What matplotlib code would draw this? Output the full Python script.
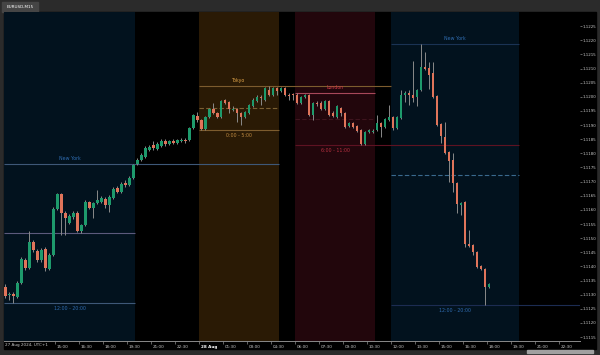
import numpy as np
import pandas as pd
import matplotlib
matplotlib.use("Agg")
import matplotlib.pyplot as plt
import matplotlib.dates as mdates
import matplotlib.transforms as mtransforms
from matplotlib.patches import Rectangle

# 15-minute candles, broker time (UTC+1)
times = pd.date_range("2024-08-27 11:45", periods=122, freq="15min")

opens = [1.11327, 1.11299, 1.11302, 1.11292, 1.11341, 1.11423, 1.11394, 1.11486, 1.11454, 1.11423,
         1.11462, 1.11391, 1.11440, 1.11603, 1.11656, 1.11589, 1.11553, 1.11575, 1.11589, 1.11525,
         1.11546, 1.11628, 1.11607, 1.11624, 1.11628, 1.11638, 1.11617, 1.11642, 1.11677, 1.11663,
         1.11695, 1.11688, 1.11713, 1.11762, 1.11776, 1.11787, 1.11812, 1.11829, 1.11815, 1.11826,
         1.11843, 1.11833, 1.11843, 1.11836, 1.11843, 1.11847, 1.11847, 1.11889, 1.11932, 1.11918,
         1.11886, 1.11928, 1.11957, 1.11942, 1.11928, 1.11988, 1.11981, 1.11953, 1.11957, 1.11942,
         1.11928, 1.11942, 1.11967, 1.11985, 1.11999, 1.11988, 1.12024, 1.12006, 1.12031, 1.12020,
         1.12031, 1.12006, 1.12010, 1.12006, 1.11978, 1.11999, 1.12006, 1.11935, 1.11978, 1.11978,
         1.11957, 1.11985, 1.11942, 1.11928, 1.11960, 1.11942, 1.11896, 1.11907, 1.11896, 1.11882,
         1.11833, 1.11875, 1.11875, 1.11882, 1.11907, 1.11893, 1.11918, 1.11928, 1.11889, 1.11925,
         1.12006, 1.12013, 1.12006, 1.11999, 1.12024, 1.12105, 1.12102, 1.12084, 1.12003, 1.11904,
         1.11858, 1.11805, 1.11776, 1.11695, 1.11617, 1.11628, 1.11479, 1.11476, 1.11451, 1.11401,
         1.11391, 1.11327]
highs = [1.11338, 1.11309, 1.11309, 1.11348, 1.11433, 1.11430, 1.11525, 1.11493, 1.11462, 1.11465,
         1.11469, 1.11447, 1.11610, 1.11660, 1.11660, 1.11596, 1.11585, 1.11596, 1.11596, 1.11550,
         1.11635, 1.11631, 1.11628, 1.11670, 1.11649, 1.11645, 1.11652, 1.11681, 1.11684, 1.11698,
         1.11706, 1.11720, 1.11762, 1.11783, 1.11801, 1.11826, 1.11829, 1.11843, 1.11840, 1.11851,
         1.11851, 1.11847, 1.11851, 1.11851, 1.11854, 1.11854, 1.11893, 1.11939, 1.11946, 1.11921,
         1.11932, 1.11960, 1.11978, 1.11946, 1.11988, 1.11992, 1.11985, 1.11967, 1.11960, 1.11946,
         1.11950, 1.11974, 1.11995, 1.12006, 1.12006, 1.12034, 1.12038, 1.12034, 1.12034, 1.12034,
         1.12034, 1.12013, 1.12013, 1.12013, 1.12003, 1.12010, 1.12010, 1.11981, 1.11985, 1.11985,
         1.11988, 1.11988, 1.11950, 1.11971, 1.11964, 1.11946, 1.11911, 1.11911, 1.11900, 1.11886,
         1.11879, 1.11886, 1.11886, 1.11935, 1.11911, 1.11925, 1.11971, 1.11932, 1.11932, 1.12024,
         1.12020, 1.12024, 1.12126, 1.12027, 1.12186, 1.12158, 1.12123, 1.12123, 1.12006, 1.11907,
         1.11911, 1.11808, 1.11801, 1.11698, 1.11628, 1.11631, 1.11529, 1.11479, 1.11454, 1.11405,
         1.11394, 1.11341]
lows = [1.11288, 1.11281, 1.11271, 1.11288, 1.11338, 1.11387, 1.11391, 1.11451, 1.11416, 1.11416,
        1.11384, 1.11387, 1.11437, 1.11599, 1.11511, 1.11511, 1.11550, 1.11568, 1.11522, 1.11518,
        1.11543, 1.11603, 1.11571, 1.11621, 1.11624, 1.11607, 1.11592, 1.11638, 1.11660, 1.11660,
        1.11681, 1.11684, 1.11709, 1.11759, 1.11773, 1.11783, 1.11808, 1.11812, 1.11812, 1.11822,
        1.11826, 1.11829, 1.11833, 1.11833, 1.11840, 1.11836, 1.11843, 1.11886, 1.11911, 1.11882,
        1.11882, 1.11925, 1.11939, 1.11925, 1.11925, 1.11974, 1.11942, 1.11950, 1.11911, 1.11900,
        1.11925, 1.11939, 1.11964, 1.11981, 1.11971, 1.11985, 1.12003, 1.12003, 1.12006, 1.12017,
        1.12003, 1.11988, 1.11988, 1.11974, 1.11974, 1.11995, 1.11932, 1.11918, 1.11967, 1.11953,
        1.11953, 1.11932, 1.11928, 1.11925, 1.11932, 1.11889, 1.11893, 1.11889, 1.11875, 1.11829,
        1.11829, 1.11872, 1.11872, 1.11879, 1.11858, 1.11889, 1.11914, 1.11882, 1.11886, 1.11921,
        1.11981, 1.11971, 1.11981, 1.11967, 1.12020, 1.12094, 1.12027, 1.11995, 1.11896, 1.11836,
        1.11797, 1.11698, 1.11663, 1.11589, 1.11582, 1.11469, 1.11469, 1.11440, 1.11394, 1.11387,
        1.11264, 1.11324]
closes = [1.11295, 1.11302, 1.11295, 1.11341, 1.11426, 1.11394, 1.11486, 1.11458, 1.11423, 1.11458,
          1.11394, 1.11440, 1.11603, 1.11656, 1.11589, 1.11571, 1.11578, 1.11589, 1.11525, 1.11546,
          1.11628, 1.11607, 1.11624, 1.11635, 1.11642, 1.11617, 1.11645, 1.11674, 1.11663, 1.11691,
          1.11688, 1.11713, 1.11759, 1.11776, 1.11794, 1.11819, 1.11822, 1.11819, 1.11833, 1.11843,
          1.11833, 1.11843, 1.11836, 1.11847, 1.11847, 1.11843, 1.11889, 1.11935, 1.11918, 1.11886,
          1.11928, 1.11957, 1.11942, 1.11928, 1.11985, 1.11978, 1.11957, 1.11957, 1.11942, 1.11928,
          1.11946, 1.11971, 1.11988, 1.11999, 1.11995, 1.12031, 1.12006, 1.12031, 1.12020, 1.12031,
          1.12006, 1.12003, 1.12006, 1.11978, 1.11999, 1.12006, 1.11935, 1.11978, 1.11974, 1.11957,
          1.11985, 1.11935, 1.11932, 1.11967, 1.11942, 1.11893, 1.11907, 1.11893, 1.11879, 1.11833,
          1.11875, 1.11882, 1.11879, 1.11907, 1.11893, 1.11921, 1.11928, 1.11889, 1.11928, 1.12006,
          1.12013, 1.12006, 1.11995, 1.12024, 1.12105, 1.12098, 1.12077, 1.11999, 1.11900, 1.11861,
          1.11801, 1.11773, 1.11695, 1.11621, 1.11624, 1.11479, 1.11472, 1.11451, 1.11398, 1.11391,
          1.11327, 1.11338]

# sessions
sess_names = ["New York", "Tokyo", "London", "New York"]
sess_hours = ["12:00 - 20:00", "0:00 - 5:00", "6:00 - 11:00", "12:00 - 20:00"]
sess_start = ["2024-08-27 12:00", "2024-08-28 00:00", "2024-08-28 06:00", "2024-08-28 12:00"]
sess_end = ["2024-08-27 20:00", "2024-08-28 05:00", "2024-08-28 11:00", "2024-08-28 20:00"]
# which level is carried on past the session, and until when
sess_extend = [("high", "2024-08-28 05:00"), ("high", "2024-08-28 12:00"),
               ("low", "2024-08-28 20:00"), ("low", "2024-08-28 23:49")]

price_ticks = [1.1225, 1.1220, 1.1215, 1.1210, 1.1205, 1.1200, 1.1195, 1.1190, 1.1185, 1.1180,
               1.1175, 1.1170, 1.1165, 1.1160, 1.1155, 1.1150, 1.1145, 1.1140, 1.1135, 1.1130,
               1.1125, 1.1120, 1.1115]
xtick_times = ["2024-08-27 15:00", "2024-08-27 16:30", "2024-08-27 18:00", "2024-08-27 19:30",
               "2024-08-27 21:00", "2024-08-27 22:30", "2024-08-28 00:00", "2024-08-28 01:30",
               "2024-08-28 03:00", "2024-08-28 04:30", "2024-08-28 06:00", "2024-08-28 07:30",
               "2024-08-28 09:00", "2024-08-28 10:30", "2024-08-28 12:00", "2024-08-28 13:30",
               "2024-08-28 15:00", "2024-08-28 16:30", "2024-08-28 18:00", "2024-08-28 19:30",
               "2024-08-28 21:00", "2024-08-28 22:30"]
xtick_labels = ["15:00", "16:30", "18:00", "19:30", "21:00", "22:30", "28 Aug", "01:30", "03:00",
                "04:30", "06:00", "07:30", "09:00", "10:30", "12:00", "13:30", "15:00", "16:30",
                "18:00", "19:30", "21:00", "22:30"]

# colours per session
bg_cols = ["#02121e", "#2a1a05", "#22060c", "#02121e"]
hl_cols = ["#3e5878", "#7d5c2e", "#a8485a", "#1a3354"]
lo_cols = ["#3e5878", "#7d5c2e", "#5e1222", "#1c2c52"]
mid_cols = ["#5c5a7c", "#7a5f32", "#3e141e", "#3a6a8e"]
mid_ls = ["-", (0, (4, 2)), (0, (4, 2)), (0, (4, 2))]
name_cols = ["#2f6cb0", "#e0a448", "#d03848", "#2f6cb0"]
hour_cols = ["#2f6cb0", "#c08a40", "#b83040", "#2f6cb0"]

W, H = 600, 355
fig = plt.figure(figsize=(6, 3.55), dpi=100, facecolor="#2b2b2b")

def fr(x0, y0, x1, y1):
    # pixel box (top-left origin) -> figure fraction rect
    return (x0 / W, (H - y1) / H, (x1 - x0) / W, (y1 - y0) / H)

def add_box(box, color, z):
    r = fr(*box)
    fig.patches.append(Rectangle(r[:2], r[2], r[3], transform=fig.transFigure,
                                 color=color, zorder=z))

add_box((4, 12, 596, 349), "black", -10)
add_box((2, 2, 38, 12), "#454545", -10)
add_box((527, 349.5, 593, 352.5), "#a0a0a0", -10)
fig.text(20 / W, 1 - 7.5 / H, "EURUSD,M15", color="white", fontsize=3,
         ha="center", va="center")

ax = fig.add_axes(fr(4, 12, 580, 341))
ax.set_facecolor("black")

xl = mdates.date2num(pd.Timestamp("2024-08-27 11:48"))
xr = mdates.date2num(pd.Timestamp("2024-08-28 23:49"))
ax.set_xlim(xl, xr)
ax.set_ylim(1.111362, 1.123)

# session backgrounds, levels and labels
for i in range(len(sess_names)):
    s = pd.Timestamp(sess_start[i])
    e = pd.Timestamp(sess_end[i])
    sn, en = mdates.date2num(s), mdates.date2num(e)
    # the first session box runs off the left edge of the chart
    x0 = xl if i == 0 else sn
    ax.axvspan(x0, en, color=bg_cols[i], lw=0, zorder=0)
    mask = (times >= s) & (times < e)
    hi = max(np.array(highs)[mask])
    lo = min(np.array(lows)[mask])
    mid = (hi + lo) / 2
    kind, until = sess_extend[i]
    un = min(mdates.date2num(pd.Timestamp(until)), xr)
    ax.hlines(hi, x0, un if kind == "high" else en, color=hl_cols[i], lw=0.8, zorder=1)
    ax.hlines(lo, x0, un if kind == "low" else en, color=lo_cols[i], lw=0.8, zorder=1)
    ax.hlines(mid, x0, en, color=mid_cols[i], lw=0.8, linestyle=mid_ls[i], zorder=1)
    xm = (x0 + en) / 2
    ax.annotate(sess_names[i], (xm, hi), xytext=(0, 4), textcoords="offset points",
                ha="center", va="center", fontsize=3.4, color=name_cols[i], zorder=2)
    ax.annotate(sess_hours[i], (xm, lo), xytext=(0, -3.8), textcoords="offset points",
                ha="center", va="center", fontsize=3.4, color=hour_cols[i], zorder=2)

# candles
xc = mdates.date2num((times + pd.Timedelta("7.5min")).to_pydatetime())
o = np.array(opens)
c = np.array(closes)
up = c >= o
body_lo = np.minimum(o, c)
body_h = np.maximum(np.abs(c - o), 0.00003)
bw = 0.7 * 15 / 1440
ax.vlines(xc, lows, highs, color="#8a8a8a", lw=0.7, zorder=3)
ax.bar(xc[up], body_h[up], bottom=body_lo[up], width=bw, color="#1e9a6c", lw=0, zorder=4)
ax.bar(xc[~up], body_h[~up], bottom=body_lo[~up], width=bw, color="#e0745a", lw=0, zorder=4)

# axes styling
for side in ["top", "left", "right"]:
    ax.spines[side].set_visible(False)
ax.spines["bottom"].set_color("#8a8a8a")
ax.spines["bottom"].set_linewidth(0.7)

ax.yaxis.tick_right()
ax.set_yticks(price_ticks)
ax.set_yticklabels([f"{p:.4f}" for p in price_ticks])
ax.tick_params(axis="y", colors="#8a8a8a", labelcolor="#c8c8c8", labelsize=2.9,
               length=1.5, width=0.5, pad=0.6)

ax.set_xticks(mdates.date2num(pd.to_datetime(xtick_times)))
ax.set_xticklabels(xtick_labels)
ax.tick_params(axis="x", colors="#8a8a8a", labelcolor="#c8c8c8", labelsize=3,
               length=2, width=0.5, pad=0.6)
shift = mtransforms.ScaledTranslation(1.2 / 72, 0, fig.dpi_scale_trans)
for lab in ax.get_xticklabels():
    lab.set_horizontalalignment("left")
    lab.set_transform(lab.get_transform() + shift)
    if lab.get_text() == "28 Aug":
        lab.set_fontweight("bold")
        lab.set_color("white")
ax.text(0.002, -0.005, "27 Aug 2024, UTC+1", transform=ax.transAxes, ha="left", va="top",
        fontsize=3, color="#c8c8c8")

fig.savefig("out.png", dpi=100, facecolor=fig.get_facecolor())
